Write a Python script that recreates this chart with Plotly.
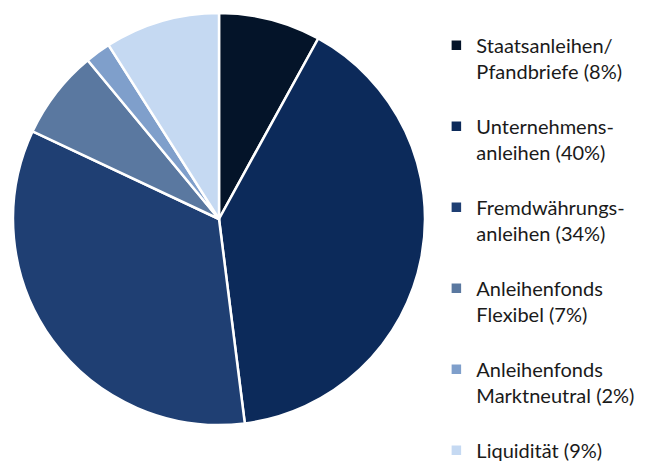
import plotly.graph_objects as go

labels = [
    "Staatsanleihen/<br>Pfandbriefe (8%)<br> ",
    "Unternehmens-<br>anleihen (40%)<br> ",
    "Fremdwährungs-<br>anleihen (34%)<br> ",
    "Anleihenfonds<br>Flexibel (7%)<br> ",
    "Anleihenfonds<br>Marktneutral (2%)<br> ",
    "Liquidität (9%)",
]
values = [8, 40, 34, 7, 2, 9]
colors = ["#041429", "#0c2a5a", "#1f3f73", "#5a78a0", "#7f9fcb", "#c5d9f2"]

W, H = 654, 468
fig = go.Figure(go.Pie(
    labels=labels,
    values=values,
    sort=False,
    direction="clockwise",
    rotation=0,
    textinfo="none",
    hoverinfo="label+value",
    marker=dict(colors=colors, line=dict(color="white", width=2.5)),
    domain=dict(x=[4 / W, 418 / W], y=[(H - 417) / H, (H - 5) / H]),
))
fig.update_layout(
    width=W, height=H,
    margin=dict(l=0, r=0, t=0, b=0),
    paper_bgcolor="white",
    plot_bgcolor="white",
    font=dict(family="Lato, 'Open Sans', sans-serif", color="#1a1a1a", size=20),
    legend=dict(
        x=0.655, y=0.962, xanchor="left", yanchor="top",
        valign="top",
        itemwidth=30,
        font=dict(size=20),
        traceorder="normal",
    ),
)
fig.write_html("out.html")
